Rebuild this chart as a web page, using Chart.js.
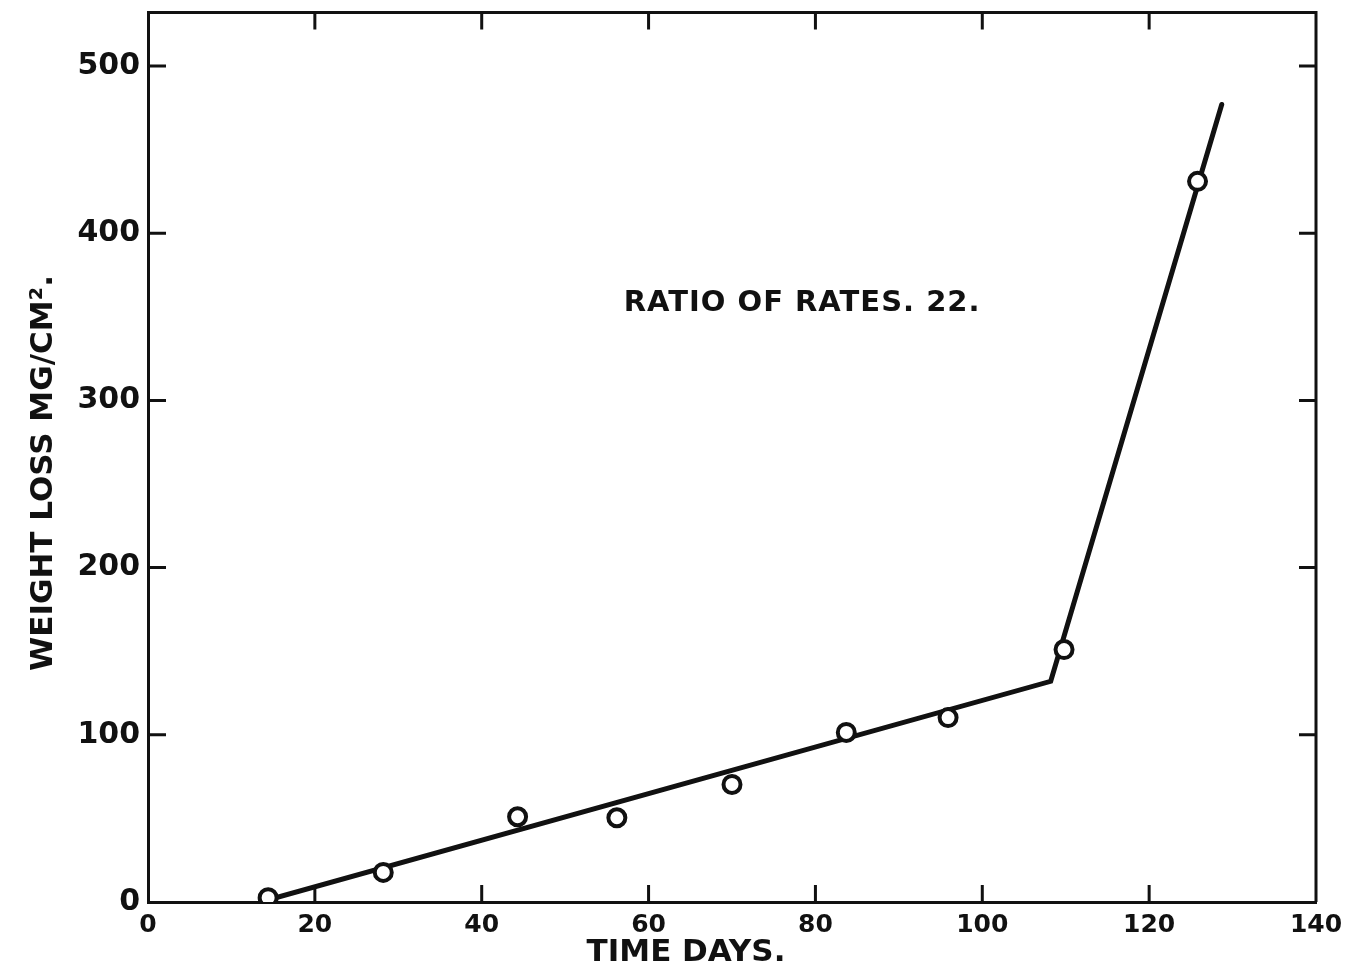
<!DOCTYPE html>
<html>
<head>
<meta charset="utf-8">
<title>Weight loss against time</title>
<script src="https://cdn.jsdelivr.net/npm/chart.js@4.4.1/dist/chart.umd.min.js"></script>
<style>
  html, body { margin: 0; padding: 0; background: #fff; }
</style>
</head>
<body>
<canvas id="chart" width="1349" height="969"></canvas>
<script>
// measured points: time (days) and weight loss (mg/cm2)
const days = [14.4, 28.2, 44.3, 56.2, 70.0, 83.7, 95.9, 109.8, 125.8];
const weightLoss = [2.6, 17.7, 51, 50.4, 70.3, 101.4, 110.3, 151, 431];

// the two straight lines drawn through them
const fitDays = [13.5, 108.2, 128.7];
const fitLoss = [0, 132, 477];

const xTicks = [0, 20, 40, 60, 80, 100, 120, 140];
const yTicks = [0, 100, 200, 300, 400, 500];

const xTitle = 'TIME DAYS.';
const yTitle = 'WEIGHT LOSS MG/CM².';
const note = 'RATIO OF RATES. 22.';
const noteAt = [78.4, 358];

const ink = '#111';
const font = 'DejaVu Sans';

// box round the plot, inward ticks, titles and the note
const frame = {
  id: 'frame',
  beforeDatasetsDraw(chart) {
    const { ctx, chartArea: a, scales: { x, y } } = chart;
    ctx.save();
    ctx.strokeStyle = ink;
    ctx.lineWidth = 3;
    ctx.beginPath();
    ctx.moveTo(a.left, a.top);
    ctx.lineTo(a.right, a.top);
    ctx.lineTo(a.right, a.bottom);
    ctx.stroke();

    ctx.beginPath();
    xTicks.slice(1, -1).forEach(v => {
      const px = x.getPixelForValue(v);
      ctx.moveTo(px, a.bottom);
      ctx.lineTo(px, a.bottom - 17);
      ctx.moveTo(px, a.top);
      ctx.lineTo(px, a.top + 17);
    });
    yTicks.slice(1).forEach(v => {
      const py = y.getPixelForValue(v);
      ctx.moveTo(a.left, py);
      ctx.lineTo(a.left + 18, py);
      ctx.moveTo(a.right, py);
      ctx.lineTo(a.right - 17, py);
    });
    ctx.stroke();
    ctx.restore();
  },
  afterDraw(chart) {
    const { ctx, scales: { x, y } } = chart;
    ctx.save();
    ctx.fillStyle = ink;
    ctx.textAlign = 'center';
    ctx.textBaseline = 'middle';

    ctx.font = 'bold 31px "' + font + '"';
    ctx.fillText(xTitle, 686, 953);

    ctx.translate(44, 473);
    ctx.rotate(-Math.PI / 2);
    ctx.fillText(yTitle, 0, 0);
    ctx.setTransform(1, 0, 0, 1, 0, 0);

    ctx.font = 'bold 29px "' + font + '"';
    ctx.letterSpacing = '1px';
    ctx.fillText(note, x.getPixelForValue(noteAt[0]), y.getPixelForValue(noteAt[1]));
    ctx.restore();
  }
};

new Chart(document.getElementById('chart'), {
  type: 'scatter',
  data: {
    datasets: [
      {
        label: 'measured',
        data: days.map((d, i) => ({ x: d, y: weightLoss[i] })),
        pointRadius: 8.5,
        pointBorderWidth: 4,
        pointBorderColor: ink,
        pointBackgroundColor: '#fff'
      },
      {
        label: 'fit',
        data: fitDays.map((d, i) => ({ x: d, y: fitLoss[i] })),
        showLine: true,
        pointRadius: 0,
        borderColor: ink,
        borderWidth: 5,
        borderCapStyle: 'round'
      }
    ]
  },
  options: {
    responsive: false,
    animation: false,
    devicePixelRatio: 1,
    layout: { padding: { left: 0, top: 11, right: 33, bottom: 0 } },
    plugins: { legend: { display: false }, tooltip: { enabled: false } },
    scales: {
      x: {
        type: 'linear',
        min: 0,
        max: 140,
        afterBuildTicks: s => { s.ticks = xTicks.map(v => ({ value: v })); },
        afterFit: s => { s.height = 67; s.paddingLeft = 0; s.paddingRight = 0; },
        grid: { display: false, drawTicks: false },
        border: { display: true, color: ink, width: 3 },
        ticks: {
          color: ink,
          padding: 8,
          maxRotation: 0,
          autoSkip: false,
          font: { family: font, size: 25, weight: 'bold' }
        }
      },
      y: {
        type: 'linear',
        min: 0,
        max: 532,
        afterBuildTicks: s => { s.ticks = yTicks.map(v => ({ value: v })); },
        afterFit: s => { s.width = 148; s.paddingTop = 0; s.paddingBottom = 0; },
        grid: { display: false, drawTicks: false },
        border: { display: true, color: ink, width: 3 },
        ticks: {
          color: ink,
          padding: 8,
          autoSkip: false,
          font: { family: font, size: 30, weight: 'bold' }
        }
      }
    }
  },
  plugins: [frame]
});
</script>
</body>
</html>
